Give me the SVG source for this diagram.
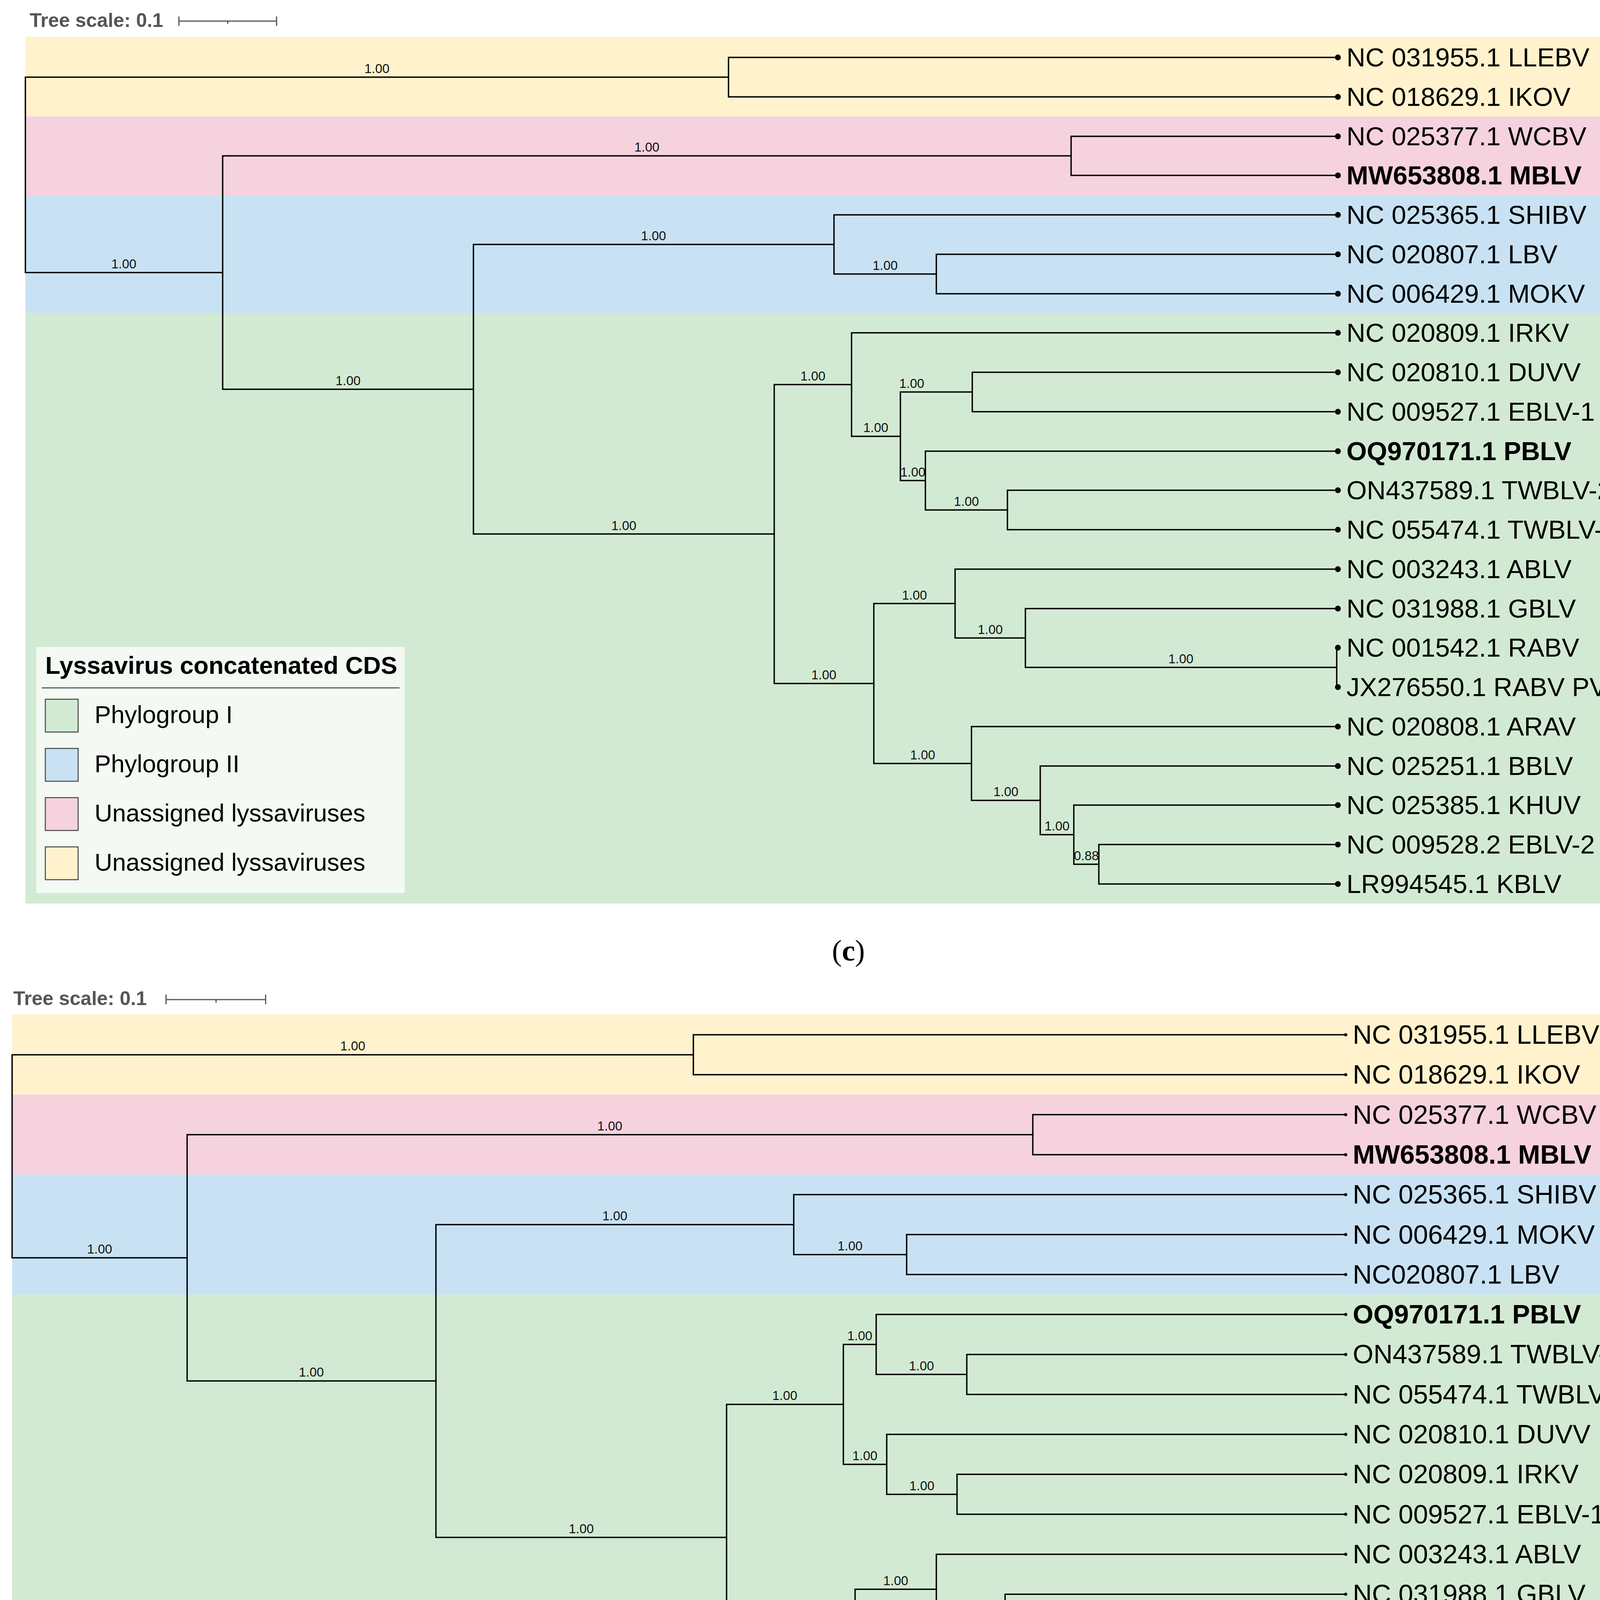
<svg xmlns="http://www.w3.org/2000/svg" width="4336" height="5062" viewBox="0 0 4336 5062">
<style>
.br{fill:none;stroke:#000;stroke-width:3.5;stroke-linecap:square}
.sup{font-family:"Liberation Sans",Arial,sans-serif;font-size:33px;fill:#111;text-anchor:middle}
.lf{font-family:"Liberation Sans",Arial,sans-serif;font-size:67px;fill:#000}
.lfd{font-family:"Liberation Sans",Arial,sans-serif;font-size:68px;fill:#000}
.b{font-weight:bold}
.ts{font-family:"Liberation Sans",Arial,sans-serif;font-size:50px;font-weight:bold;fill:#555}
.sb{fill:none;stroke:#555;stroke-width:3}
.lgbox{fill:#f4f9f4}
.lgt{font-family:"Liberation Sans",Arial,sans-serif;font-weight:bold;fill:#000}
.lgl{font-family:"Liberation Sans",Arial,sans-serif;fill:#000}
.sw{stroke:#444;stroke-width:2.5}
.y{fill:#fff2cc}.p{fill:#f5d2de}.bl{fill:#c8e2f4}.g{fill:#d2ead3}
.cap{font-family:"Liberation Serif","Times New Roman",serif;font-size:76px;fill:#000;text-anchor:middle}
</style>
<rect width="4336" height="5062" fill="#fff"/>

<!-- ===== Panel c ===== -->
<g id="c-scale">
<text class="ts" x="76" y="69">Tree scale: 0.1</text>
<path class="sb" d="M458,54 H708 M458,42 V66 M708,42 V66 M583,54 V61"/>
</g>
<g id="c-bands">
<rect class="y" x="65" y="94" width="4218" height="204"/>
<rect class="p" x="65" y="298" width="4218" height="202"/>
<rect class="bl" x="65" y="500" width="4218" height="302"/>
<rect class="g" x="65" y="802" width="4218" height="1511"/>
</g>
<g id="c-connectors">
<path class="br" d="M1865,197.5 H65 V697.7 H570"/>
<path class="br" d="M3425,147 H1865 V248 H3425"/>
<path class="br" d="M2742,399 H570 V996.4 H1212"/>
<path class="br" d="M3425,349 H2742 V449 H3425"/>
<path class="br" d="M2135,625.75 H1212 V1367.1 H1982"/>
<path class="br" d="M3425,550 H2135 V701.5 H2397"/>
<path class="br" d="M3425,651 H2397 V752 H3425"/>
<path class="br" d="M2180,984.4 H1982 V1749.8 H2237"/>
<path class="br" d="M3425,852 H2180 V1116.9 H2305"/>
<path class="br" d="M2489,1003.5 H2305 V1230.25 H2369"/>
<path class="br" d="M3425,953 H2489 V1054 H3425"/>
<path class="br" d="M3425,1155 H2369 V1305.5 H2579"/>
<path class="br" d="M3425,1255 H2579 V1356 H3425"/>
<path class="br" d="M2445,1545.1 H2237 V1954.4 H2487"/>
<path class="br" d="M3425,1457 H2445 V1633.25 H2625"/>
<path class="br" d="M3425,1558 H2625 V1708.5 H3422"/>
<path class="br" d="M3425,1658 H3422 V1759 H3425"/>
<path class="br" d="M3425,1860 H2487 V2048.9 H2663"/>
<path class="br" d="M3425,1961 H2663 V2136.75 H2749"/>
<path class="br" d="M3425,2061 H2749 V2212.5 H2813"/>
<path class="br" d="M3425,2162 H2813 V2263 H3425"/>
</g>
<g id="c-support">
<text class="sup" x="965" y="187">1.00</text>
<text class="sup" x="317" y="687">1.00</text>
<text class="sup" x="1656" y="388">1.00</text>
<text class="sup" x="891" y="986">1.00</text>
<text class="sup" x="1673" y="615">1.00</text>
<text class="sup" x="2266" y="691">1.00</text>
<text class="sup" x="1597" y="1357">1.00</text>
<text class="sup" x="2081" y="974">1.00</text>
<text class="sup" x="2334" y="993">1.00</text>
<text class="sup" x="2242" y="1106">1.00</text>
<text class="sup" x="2337" y="1220">1.00</text>
<text class="sup" x="2474" y="1295">1.00</text>
<text class="sup" x="2109" y="1739">1.00</text>
<text class="sup" x="2341" y="1535">1.00</text>
<text class="sup" x="2535" y="1623">1.00</text>
<text class="sup" x="3023" y="1698">1.00</text>
<text class="sup" x="2362" y="1944">1.00</text>
<text class="sup" x="2575" y="2038">1.00</text>
<text class="sup" x="2706" y="2126">1.00</text>
<text class="sup" x="2781" y="2202">0.88</text>
</g>
<g id="c-leaves">
<g id="c-leaf-LLEBV"><circle cx="3425" cy="147" r="7.5"/><text class="lf" x="3447" y="170">NC 031955.1 LLEBV</text></g>
<g id="c-leaf-IKOV"><circle cx="3425" cy="248" r="7.5"/><text class="lf" x="3447" y="271">NC 018629.1 IKOV</text></g>
<g id="c-leaf-WCBV"><circle cx="3425" cy="349" r="7.5"/><text class="lf" x="3447" y="372">NC 025377.1 WCBV</text></g>
<g id="c-leaf-MBLV"><circle cx="3425" cy="449" r="7.5"/><text class="lf b" x="3447" y="472">MW653808.1 MBLV</text></g>
<g id="c-leaf-SHIBV"><circle cx="3425" cy="550" r="7.5"/><text class="lf" x="3447" y="573">NC 025365.1 SHIBV</text></g>
<g id="c-leaf-LBV"><circle cx="3425" cy="651" r="7.5"/><text class="lf" x="3447" y="674">NC 020807.1 LBV</text></g>
<g id="c-leaf-MOKV"><circle cx="3425" cy="752" r="7.5"/><text class="lf" x="3447" y="775">NC 006429.1 MOKV</text></g>
<g id="c-leaf-IRKV"><circle cx="3425" cy="852" r="7.5"/><text class="lf" x="3447" y="875">NC 020809.1 IRKV</text></g>
<g id="c-leaf-DUVV"><circle cx="3425" cy="953" r="7.5"/><text class="lf" x="3447" y="976">NC 020810.1 DUVV</text></g>
<g id="c-leaf-EBLV1"><circle cx="3425" cy="1054" r="7.5"/><text class="lf" x="3447" y="1077">NC 009527.1 EBLV-1</text></g>
<g id="c-leaf-PBLV"><circle cx="3425" cy="1155" r="7.5"/><text class="lf b" x="3447" y="1178">OQ970171.1 PBLV</text></g>
<g id="c-leaf-TWBLV2"><circle cx="3425" cy="1255" r="7.5"/><text class="lf" x="3447" y="1278">ON437589.1 TWBLV-2</text></g>
<g id="c-leaf-TWBLV1"><circle cx="3425" cy="1356" r="7.5"/><text class="lf" x="3447" y="1379">NC 055474.1 TWBLV-1</text></g>
<g id="c-leaf-ABLV"><circle cx="3425" cy="1457" r="7.5"/><text class="lf" x="3447" y="1480">NC 003243.1 ABLV</text></g>
<g id="c-leaf-GBLV"><circle cx="3425" cy="1558" r="7.5"/><text class="lf" x="3447" y="1581">NC 031988.1 GBLV</text></g>
<g id="c-leaf-RABV"><circle cx="3425" cy="1658" r="7.5"/><text class="lf" x="3447" y="1681">NC 001542.1 RABV</text></g>
<g id="c-leaf-JX"><circle cx="3425" cy="1759" r="7.5"/><text class="lf" x="3447" y="1782">JX276550.1 RABV PV-2061</text></g>
<g id="c-leaf-ARAV"><circle cx="3425" cy="1860" r="7.5"/><text class="lf" x="3447" y="1883">NC 020808.1 ARAV</text></g>
<g id="c-leaf-BBLV"><circle cx="3425" cy="1961" r="7.5"/><text class="lf" x="3447" y="1984">NC 025251.1 BBLV</text></g>
<g id="c-leaf-KHUV"><circle cx="3425" cy="2061" r="7.5"/><text class="lf" x="3447" y="2084">NC 025385.1 KHUV</text></g>
<g id="c-leaf-EBLV2"><circle cx="3425" cy="2162" r="7.5"/><text class="lf" x="3447" y="2185">NC 009528.2 EBLV-2</text></g>
<g id="c-leaf-KBLV"><circle cx="3425" cy="2263" r="7.5"/><text class="lf" x="3447" y="2286">LR994545.1 KBLV</text></g>
</g>
<g id="c-legend">
<rect class="lgbox" x="93" y="1656" width="943" height="630"/>
<text class="lgt" x="116" y="1725" font-size="63">Lyssavirus concatenated CDS</text>
<line x1="107" y1="1761" x2="1023" y2="1761" stroke="#444" stroke-width="2.5"/>
<rect class="sw g" x="116" y="1790" width="84" height="84"/>
<rect class="sw bl" x="116" y="1916" width="84" height="84"/>
<rect class="sw p" x="116" y="2042" width="84" height="84"/>
<rect class="sw y" x="116" y="2168" width="84" height="84"/>
<text class="lgl" x="242" y="1851" font-size="63">Phylogroup I</text>
<text class="lgl" x="242" y="1977" font-size="63">Phylogroup II</text>
<text class="lgl" x="242" y="2103" font-size="63">Unassigned lyssaviruses</text>
<text class="lgl" x="242" y="2229" font-size="63">Unassigned lyssaviruses</text>
</g>
<text class="cap" x="2172" y="2459">(<tspan font-weight="bold">c</tspan>)</text>

<!-- ===== Panel d ===== -->
<g id="d-scale">
<text class="ts" x="34" y="2573">Tree scale: 0.1</text>
<path class="sb" d="M425,2559 H680 M425,2546 V2571 M680,2546 V2571 M553,2559 V2567"/>
</g>
<g id="d-bands">
<rect class="y" x="31" y="2597" width="4280" height="205"/>
<rect class="p" x="31" y="2802" width="4280" height="205"/>
<rect class="bl" x="31" y="3007" width="4280" height="307"/>
<rect class="g" x="31" y="3314" width="4280" height="1535"/>
</g>
<g id="d-connectors">
<path class="br" d="M1775,2700.2 H31 V3220 H479"/>
<path class="br" d="M3445,2649 H1775 V2751.3 H3445"/>
<path class="br" d="M2644,2904.75 H479 V3535.3 H1116"/>
<path class="br" d="M3445,2853.6 H2644 V2955.9 H3445"/>
<path class="br" d="M2032,3134.9 H1116 V3935.7 H1860"/>
<path class="br" d="M3445,3058.2 H2032 V3211.65 H2321"/>
<path class="br" d="M3445,3160.5 H2321 V3262.8 H3445"/>
<path class="br" d="M2159,3595.25 H1860 V4276.2 H2189"/>
<path class="br" d="M2243,3441.8 H2159 V3748.7 H2270"/>
<path class="br" d="M3445,3365.1 H2243 V3518.55 H2475"/>
<path class="br" d="M3445,3467.4 H2475 V3569.7 H3445"/>
<path class="br" d="M3445,3672 H2270 V3825.45 H2450"/>
<path class="br" d="M3445,3774.3 H2450 V3876.6 H3445"/>
<path class="br" d="M2397,4068.4 H2189 V4484 H2465"/>
<path class="br" d="M3445,3978.9 H2397 V4157.9 H2573"/>
<path class="br" d="M3445,4081.2 H2573 V4234.65 H3440"/>
<path class="br" d="M3445,4183.5 H3440 V4285.8 H3445"/>
<path class="br" d="M3445,4388.1 H2465 V4579.9 H2638"/>
<path class="br" d="M3445,4490.4 H2638 V4669.4 H2737"/>
<path class="br" d="M3445,4592.7 H2737 V4746.15 H2803"/>
<path class="br" d="M3445,4695 H2803 V4797.3 H3445"/>
</g>
<g id="d-support">
<text class="sup" x="903" y="2689">1.00</text>
<text class="sup" x="255" y="3209">1.00</text>
<text class="sup" x="1561" y="2894">1.00</text>
<text class="sup" x="797" y="3524">1.00</text>
<text class="sup" x="1574" y="3124">1.00</text>
<text class="sup" x="2176" y="3201">1.00</text>
<text class="sup" x="1488" y="3925">1.00</text>
<text class="sup" x="2009" y="3584">1.00</text>
<text class="sup" x="2201" y="3431">1.00</text>
<text class="sup" x="2359" y="3508">1.00</text>
<text class="sup" x="2214" y="3738">1.00</text>
<text class="sup" x="2360" y="3815">1.00</text>
<text class="sup" x="2024" y="4265">1.00</text>
<text class="sup" x="2293" y="4058">1.00</text>
<text class="sup" x="2485" y="4147">1.00</text>
<text class="sup" x="3006" y="4224">1.00</text>
<text class="sup" x="2327" y="4473">1.00</text>
<text class="sup" x="2551" y="4569">1.00</text>
<text class="sup" x="2687" y="4659">1.00</text>
<text class="sup" x="2770" y="4735">0.86</text>
</g>
<g id="d-leaves">
<g id="d-leaf-LLEBV"><circle cx="3445" cy="2649" r="4"/><text class="lfd" x="3463" y="2672">NC 031955.1 LLEBV</text></g>
<g id="d-leaf-IKOV"><circle cx="3445" cy="2751.3" r="4"/><text class="lfd" x="3463" y="2774">NC 018629.1 IKOV</text></g>
<g id="d-leaf-WCBV"><circle cx="3445" cy="2853.6" r="4"/><text class="lfd" x="3463" y="2877">NC 025377.1 WCBV</text></g>
<g id="d-leaf-MBLV"><circle cx="3445" cy="2955.9" r="4"/><text class="lfd b" x="3463" y="2979">MW653808.1 MBLV</text></g>
<g id="d-leaf-SHIBV"><circle cx="3445" cy="3058.2" r="4"/><text class="lfd" x="3463" y="3081">NC 025365.1 SHIBV</text></g>
<g id="d-leaf-MOKV"><circle cx="3445" cy="3160.5" r="4"/><text class="lfd" x="3463" y="3184">NC 006429.1 MOKV</text></g>
<g id="d-leaf-LBV"><circle cx="3445" cy="3262.8" r="4"/><text class="lfd" x="3463" y="3286">NC020807.1 LBV</text></g>
<g id="d-leaf-PBLV"><circle cx="3445" cy="3365.1" r="4"/><text class="lfd b" x="3463" y="3388">OQ970171.1 PBLV</text></g>
<g id="d-leaf-TWBLV2"><circle cx="3445" cy="3467.4" r="4"/><text class="lfd" x="3463" y="3490">ON437589.1 TWBLV-2</text></g>
<g id="d-leaf-TWBLV1"><circle cx="3445" cy="3569.7" r="4"/><text class="lfd" x="3463" y="3593">NC 055474.1 TWBLV-1</text></g>
<g id="d-leaf-DUVV"><circle cx="3445" cy="3672" r="4"/><text class="lfd" x="3463" y="3695">NC 020810.1 DUVV</text></g>
<g id="d-leaf-IRKV"><circle cx="3445" cy="3774.3" r="4"/><text class="lfd" x="3463" y="3797">NC 020809.1 IRKV</text></g>
<g id="d-leaf-EBLV1"><circle cx="3445" cy="3876.6" r="4"/><text class="lfd" x="3463" y="3900">NC 009527.1 EBLV-1</text></g>
<g id="d-leaf-ABLV"><circle cx="3445" cy="3978.9" r="4"/><text class="lfd" x="3463" y="4002">NC 003243.1 ABLV</text></g>
<g id="d-leaf-GBLV"><circle cx="3445" cy="4081.2" r="4"/><text class="lfd" x="3463" y="4104">NC 031988.1 GBLV</text></g>
<g id="d-leaf-RABV"><circle cx="3445" cy="4183.5" r="4"/><text class="lfd" x="3463" y="4207">NC 001542.1 RABV</text></g>
<g id="d-leaf-JX"><circle cx="3445" cy="4285.8" r="4"/><text class="lfd" x="3463" y="4309">JX276550.1 RABV PV-2061</text></g>
<g id="d-leaf-ARAV"><circle cx="3445" cy="4388.1" r="4"/><text class="lfd" x="3463" y="4411">NC 020808.1 ARAV</text></g>
<g id="d-leaf-BBLV"><circle cx="3445" cy="4490.4" r="4"/><text class="lfd" x="3463" y="4513">NC 025251.1 BBLV</text></g>
<g id="d-leaf-KHUV"><circle cx="3445" cy="4592.7" r="4"/><text class="lfd" x="3463" y="4616">NC 025385.1 KHUV</text></g>
<g id="d-leaf-EBLV2"><circle cx="3445" cy="4695" r="4"/><text class="lfd" x="3463" y="4718">NC 009528.2 EBLV-2</text></g>
<g id="d-leaf-KBLV"><circle cx="3445" cy="4797.3" r="4"/><text class="lfd" x="3463" y="4820">LR994545.1 KBLV</text></g>
</g>
<g id="d-legend">
<rect class="lgbox" x="65" y="4183" width="925" height="637"/>
<text class="lgt" x="87" y="4253" font-size="63">Complete lyssavirus genome</text>
<line x1="77" y1="4289" x2="977" y2="4289" stroke="#444" stroke-width="2.5"/>
<rect class="sw g" x="85" y="4319" width="86" height="84"/>
<rect class="sw bl" x="85" y="4446" width="86" height="84"/>
<rect class="sw p" x="85" y="4573" width="86" height="84"/>
<rect class="sw y" x="85" y="4701" width="86" height="84"/>
<text class="lgl" x="214" y="4381" font-size="63">Phylogroup I</text>
<text class="lgl" x="214" y="4508" font-size="63">Phylogroup II</text>
<text class="lgl" x="214" y="4635" font-size="63">Unassigned lyssaviruses</text>
<text class="lgl" x="214" y="4762" font-size="63">Unassigned lyssaviruses</text>
</g>
<text class="cap" x="2168" y="5010">(<tspan font-weight="bold">d</tspan>)</text>
</svg>
